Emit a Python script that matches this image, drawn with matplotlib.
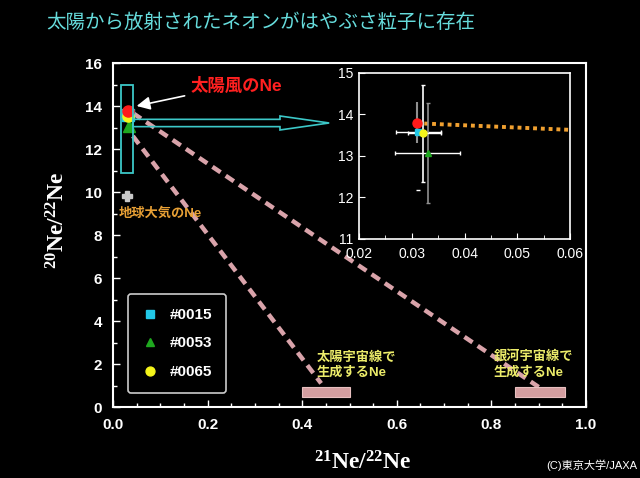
import matplotlib
matplotlib.use('Agg')
import matplotlib.pyplot as plt
from matplotlib.patches import Rectangle, FancyArrow

plt.rcParams['font.family'] = ['Liberation Sans', 'Noto Sans CJK JP', 'DejaVu Sans']
plt.rcParams['mathtext.fontset'] = 'custom'
plt.rcParams['mathtext.rm'] = 'Liberation Serif:bold'

# Hayabusa-Partikel (Ne-Isotopenverhältnisse)
names = ['#0015', '#0053', '#0065']
ne21 = [0.0311, 0.0330, 0.0322]
ne20 = [13.59, 13.07, 13.55]
xerr_lo = [0.0041, 0.0062, 0.0030]
xerr_hi = [0.0044, 0.0062, 0.0033]
yerr_lo = [0.0, 1.20, 1.17]
yerr_hi = [0.0, 1.21, 1.16]
colors = ['#22c8e8', '#1fa81f', '#f5f51a']
markers = ['s', '^', 'o']

# Sonnenwind
sw_x, sw_y = 0.0309, 13.79
sw_yerr = (0.48, 0.50)
stray_cap = (0.0311, 12.18)
sw_line_x = [0.0309, 0.0600]
sw_line_y = [13.79, 13.63]

# Erdatmosphäre
air_x, air_y = 0.029, 9.8

# Mischungslinien zu kosmogenem Ne
mix_gcr_x = [0.042, 0.90]
mix_gcr_y = [13.67, 0.93]
mix_scr_x = [0.042, 0.44]
mix_scr_y = [12.6, 1.1]

# kosmogene Bereiche
scr_range = (0.40, 0.50)
gcr_range = (0.85, 0.955)
cosmo_y = (0.45, 0.95)

fig = plt.figure(figsize=(6.4, 4.78), dpi=100, facecolor='black')
ax = fig.add_axes([0.1766, 0.1485, 0.739, 0.7197], facecolor='black')

ax.set_xlim(0, 1.0)
ax.set_ylim(0, 16)
ax.set_xticks([0, 0.2, 0.4, 0.6, 0.8, 1.0])
ax.set_xticks([i * 0.05 for i in range(21)], minor=True)
ax.set_yticks(range(0, 17, 2))
ax.set_yticks(range(0, 17), minor=True)
ax.set_xticklabels(['0.0', '0.2', '0.4', '0.6', '0.8', '1.0'])
for s in ax.spines.values():
    s.set_color('white')
    s.set_linewidth(1.5)
ax.tick_params(which='both', direction='in', colors='white', width=1)
ax.tick_params(which='major', length=5, labelsize=11, pad=8)
ax.tick_params(which='minor', length=3)
for lab in ax.get_xticklabels() + ax.get_yticklabels():
    lab.set_fontweight('bold')

dash = (0, (2.2, 1.4))
ax.plot(mix_gcr_x, mix_gcr_y, color='#d9a3aa', lw=3.2, linestyle=dash, zorder=2)
ax.plot(mix_scr_x, mix_scr_y, color='#d9a3aa', lw=3.2, linestyle=dash, zorder=2)

ax.barh((cosmo_y[0] + cosmo_y[1]) / 2, scr_range[1] - scr_range[0], left=scr_range[0],
        height=cosmo_y[1] - cosmo_y[0], color='#d49ea0', edgecolor='#e8c0c0', lw=0.8, zorder=3)
ax.barh((cosmo_y[0] + cosmo_y[1]) / 2, gcr_range[1] - gcr_range[0], left=gcr_range[0],
        height=cosmo_y[1] - cosmo_y[0], color='#d49ea0', edgecolor='#e8c0c0', lw=0.8, zorder=3)

# Punkte im Hauptdiagramm
for i in range(3):
    ax.plot(ne21[i], ne20[i], marker=markers[i], color=colors[i], ms=8, ls='none',
            label=names[i], zorder=5)
ax.plot(sw_x, sw_y, 'o', color='#ff1a1a', ms=8, zorder=6)
ax.plot(air_x, air_y, 'P', color='#c8c8c8', ms=7, zorder=4)

ax.add_patch(Rectangle((0.017, 10.9), 0.025, 4.1, fill=False, edgecolor='#3cc8c8', lw=1.3, zorder=7))
ax.add_patch(FancyArrow(0.042, 13.21, 0.415, 0, width=0.34, head_width=0.65, head_length=0.104,
                        length_includes_head=True, fill=False, edgecolor='#3cc8c8', lw=1.2, zorder=7))

ax.annotate('太陽風のNe', xy=(0.05, 14.0), xytext=(0.163, 14.98), color='#ff2020',
            fontsize=12.5, fontweight='bold', va='center', ha='left',
            arrowprops=dict(arrowstyle='-|>', color='white', lw=1.2, mutation_scale=20,
                            shrinkA=2, shrinkB=0))
ax.text(0.011, 9.02, '地球大気のNe', color='#e8a035', fontsize=9.5, fontweight='bold',
        va='center', ha='left')
ax.text(0.43, 1.3, '太陽宇宙線で\n生成するNe', color='#ecec6a', fontsize=9.5, fontweight='bold',
        va='bottom', ha='left', linespacing=1.3)
ax.text(0.805, 1.3, '銀河宇宙線で\n生成するNe', color='#ecec6a', fontsize=9.5, fontweight='bold',
        va='bottom', ha='left', linespacing=1.3)

leg = ax.legend(loc='upper left', bbox_to_anchor=(0.032, 0.328), frameon=True, fancybox=True,
                facecolor='black', edgecolor='white', handlelength=1.0, handletextpad=0.8,
                borderpad=0.9, labelspacing=0.95, borderaxespad=0, markerscale=0.8,
                prop={'size': 11, 'weight': 'bold'})
leg.get_frame().set_linewidth(1.2)
for t in leg.get_texts():
    t.set_color('white')

# Inset
ins = fig.add_axes([0.561, 0.5, 0.3297, 0.3473], facecolor='black')
ins.set_xlim(0.02, 0.06)
ins.set_ylim(11, 15)
ins.set_xticks([0.02, 0.03, 0.04, 0.05, 0.06])
ins.set_xticklabels(['0.02', '0.03', '0.04', '0.05', '0.06'])
ins.set_xticks([0.02 + i * 0.005 for i in range(9)], minor=True)
ins.set_yticks([11, 12, 13, 14, 15])
for s in ins.spines.values():
    s.set_color('white')
    s.set_linewidth(1.2)
ins.tick_params(which='both', direction='in', colors='white', labelsize=10)
ins.tick_params(which='major', length=4, pad=4)
ins.tick_params(which='minor', length=3)
ins.tick_params(axis='x', pad=6)

ins.plot(sw_line_x, sw_line_y, color='#f0a030', lw=2.8, linestyle=(0, (1, 1)), zorder=2)
ins.errorbar(sw_x, sw_y, yerr=[[sw_yerr[0]], [sw_yerr[1]]], fmt='none',
             ecolor='#909090', elinewidth=1.5, capsize=0, zorder=3)
ins.plot(*stray_cap, marker='_', color='white', ms=3, zorder=3)
ycols = ['white', '#909090', 'white']
for i in range(3):
    ins.errorbar(ne21[i], ne20[i], yerr=[[yerr_lo[i]], [yerr_hi[i]]], fmt='none',
                 ecolor=ycols[i], elinewidth=1.2, capsize=1.5, zorder=3)
    ins.errorbar(ne21[i], ne20[i], xerr=[[xerr_lo[i]], [xerr_hi[i]]], fmt='none',
                 ecolor='white', elinewidth=1.0, capsize=1.5, zorder=3)
ins.plot(sw_x, sw_y, 'o', color='#ff1a1a', ms=6.5, zorder=4)
for i in range(3):
    ins.plot(ne21[i], ne20[i], marker=markers[i], color=colors[i], ms=5, ls='none', zorder=5)

fig.text(0.408, 0.954, '太陽から放射されたネオンがはやぶさ粒子に存在', color='#66dcdc',
         fontsize=14, ha='center', va='center', family=['Noto Sans CJK JP', 'DejaVu Sans'])
fig.text(0.567, 0.031, r'$\mathrm{^{21}Ne/^{22}Ne}$', color='white', fontsize=17,
         ha='center', va='center')
fig.text(0.09, 0.54, r'$\mathrm{^{20}Ne/^{22}Ne}$', color='white', fontsize=17,
         ha='center', va='center', rotation=90)
fig.text(0.995, 0.027, '(C)東京大学/JAXA', color='white', fontsize=8, ha='right', va='center')

fig.savefig('out.png', dpi=100, facecolor='black')
